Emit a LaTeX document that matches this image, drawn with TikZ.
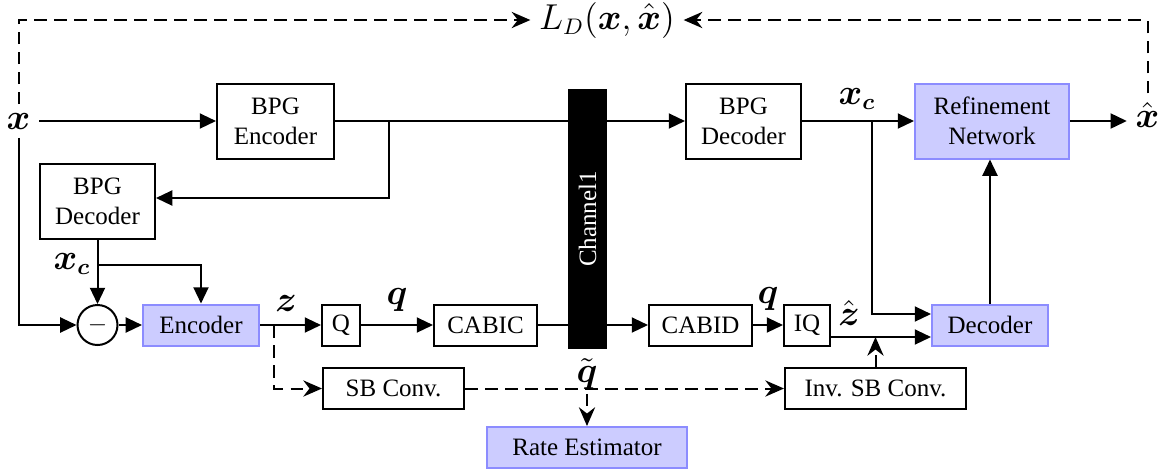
\documentclass[tikz,border=0pt]{standalone}
\usepackage{amsmath}
\usepackage{fontspec}
\setmainfont{Liberation Serif}
\newfontfamily\blockfont{Liberation Serif}
\usetikzlibrary{arrows.meta,calc}

\tikzset{
  blk/.style={draw, line width=0.8pt, inner sep=0pt, align=center,
    font=\blockfont\fontsize{10}{12}\selectfont},
  net/.style={blk, fill=blue!20, draw=blue!45},
  lab/.style={font=\fontsize{13.5}{16}\selectfont},
  arr/.style={line width=0.8pt, -{Triangle[length=6.5pt,width=6pt]}},
  darr/.style={line width=0.8pt, dash pattern=on 5pt off 3pt,
    -{Stealth[length=7.5pt,width=6.5pt,inset=2.5pt]}},
}

\begin{document}
\begin{tikzpicture}[x=0.4pt, y=-0.4pt]
\useasboundingbox (0,0) rectangle (1161,469);

% signal labels
\node[lab] (x)    at (18.5,121) {$\boldsymbol{x}$};
\node[lab] (LD)   at (607,20)   {$L_D(\boldsymbol{x},\hat{\boldsymbol{x}})$};
\node[lab] (xhat) at (1147.5,115) {$\hat{\boldsymbol{x}}$};
\node[lab] at (72,264)  {$\boldsymbol{x_c}$};
\node[lab] at (857,99)  {$\boldsymbol{x_c}$};
\node[lab] at (286,303) {$\boldsymbol{z}$};
\node[lab] at (397,300) {$\boldsymbol{q}$};
\node[lab] at (768,299) {$\boldsymbol{q}$};
\node[lab] at (849,313) {$\hat{\boldsymbol{z}}$};
\node[lab, inner sep=1.5pt] (qt) at (587,374) {$\tilde{\boldsymbol{q}}$};

% processing blocks
\node[blk, minimum width=46.8pt, minimum height=30pt] (encBPG) at (275.5,121) {BPG\\Encoder};
\node[blk, minimum width=46pt,   minimum height=30pt] (decL)   at (97.5,201.5) {BPG\\Decoder};
\node[blk, circle, minimum size=16pt] (circ) at (97.5,325) {$-$};
\node[net, minimum width=46.4pt, minimum height=16.4pt] (enc)   at (201,325)   {Encoder};
\node[blk, minimum width=15.2pt, minimum height=16.4pt] (Q)     at (341,325)   {Q};
\node[blk, minimum width=41.2pt, minimum height=16.4pt] (cabic) at (485.5,325) {CABIC};
\node[blk, minimum width=41.2pt, minimum height=16.4pt] (cabid) at (700.5,325) {CABID};
\node[blk, minimum width=18.4pt, minimum height=16.4pt] (IQ)    at (807,325)   {IQ};
\node[net, minimum width=46.4pt, minimum height=16.4pt] (dec)   at (990,325)   {Decoder};
\node[blk, minimum width=56.4pt, minimum height=16.4pt] (sb)    at (393.5,388.5) {SB Conv.};
\node[blk, minimum width=72.4pt, minimum height=16.4pt] (isb)   at (875.5,388.5) {Inv. SB Conv.};
\node[net, minimum width=80pt,   minimum height=16.4pt] (rate)  at (587,447.5) {Rate Estimator};
\node[blk, minimum width=46pt,   minimum height=30pt] (decR)   at (743.5,121) {BPG\\Decoder};
\node[net, minimum width=61.6pt, minimum height=30pt] (ref)    at (992,121)   {Refinement\\Network};

% branch points
\coordinate (b1) at (389,121);
\coordinate (b2) at (97.5,265);
\coordinate (b3) at (274,325);
\coordinate (b4) at (872,121);
\coordinate (iqout) at ([yshift=-4.8pt]IQ.east);

% solid connections
\draw[arr] (x.east) -- (encBPG.west);
\draw[arr] (encBPG.east) -- (decR.west);
\draw[arr] (b1) |- ([yshift=1.4pt]decL.east);
\draw[arr] (x.south) |- (circ.west);
\draw[arr] (decL.south) -- (circ.north);
\draw[arr] (b2) -| (enc.north);
\draw[arr] (circ.east) -- (enc.west);
\draw[arr] (enc.east) -- (Q.west);
\draw[arr] (Q.east) -- (cabic.west);
\draw[arr] (cabic.east) -- (cabid.west);
\draw[arr] (cabid.east) -- (IQ.west);
\draw[arr] (iqout) -- (iqout -| dec.west);
\draw[arr] (decR.east) -- (ref.west);
\draw[arr] (b4) |- ([yshift=4.4pt]dec.west);
\draw[arr] (dec.north) -- (dec.north |- ref.south);
\draw[arr] (ref.east) -- (ref.east -| xhat.west);

% dashed connections
\draw[darr] (b3) |- (sb.west);
\draw[darr] (sb.east) -- (isb.west);
\draw[darr] (isb.north) -- (isb.north |- iqout);
\draw[darr] (qt.south) -- (rate.north);
\draw[darr] (x.north) |- (LD.west);
\draw[darr] (xhat.north) |- (LD.east);

% channel bar, drawn over the lines it cuts
\node[fill=black, text=white, rotate=90, inner sep=0pt,
      minimum width=104pt, minimum height=15.6pt,
      font=\blockfont\fontsize{10}{12}\selectfont] (chan) at (587.5,219) {Channel1};
\end{tikzpicture}
\end{document}
